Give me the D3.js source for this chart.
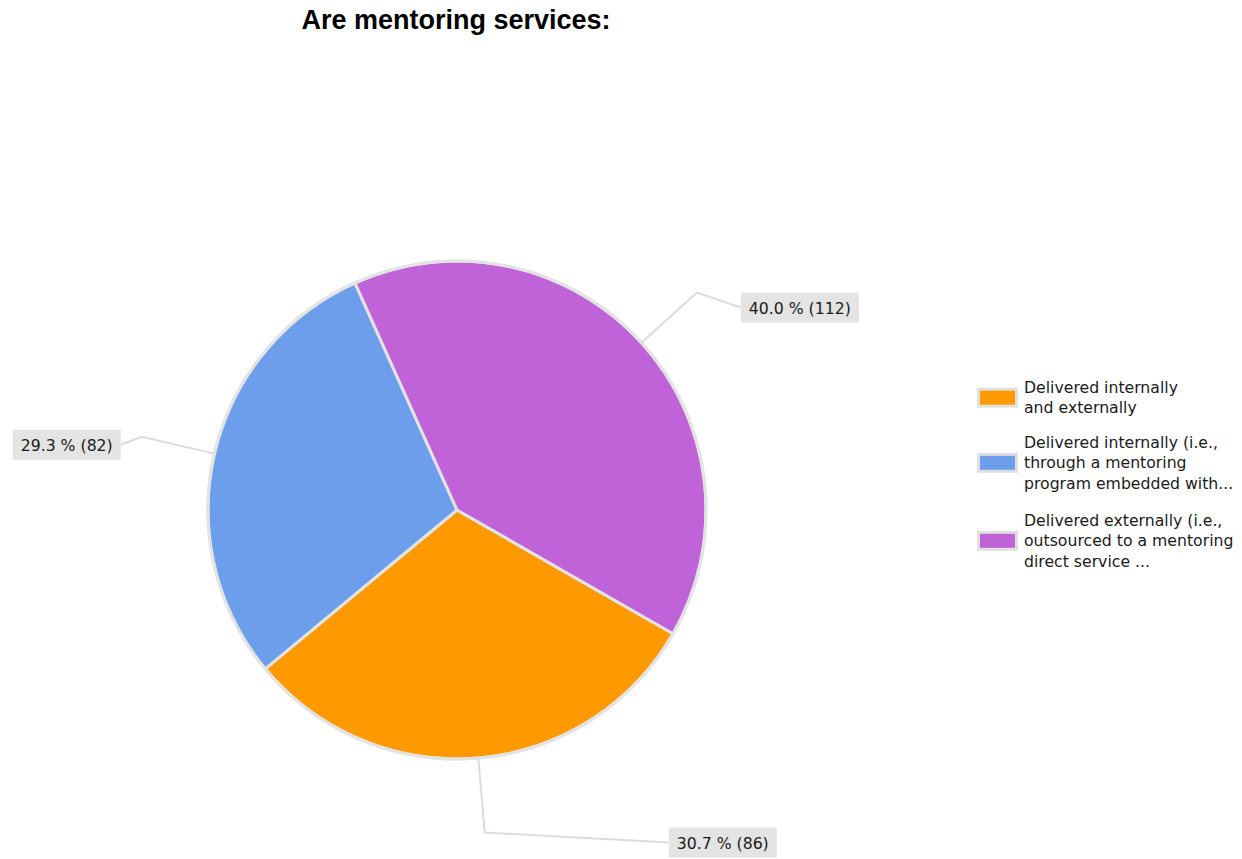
<!DOCTYPE html>
<html>
<head>
<meta charset="utf-8">
<script src="https://cdn.jsdelivr.net/npm/d3@7"></script>
<style>
  html, body { margin: 0; padding: 0; background: #fff; }
  svg { display: block; }
</style>
</head>
<body>
<svg id="chart" width="1242" height="859"></svg>
<script>
// Survey responses: "Are mentoring services:"
const categories = [
  ["Delivered internally", "and externally"],
  ["Delivered internally (i.e.,", "through a mentoring", "program embedded with..."],
  ["Delivered externally (i.e.,", "outsourced to a mentoring", "direct service ..."]
];
const counts = [86, 82, 112];
const percentLabels = ["30.7 %", "29.3 %", "40.0 %"];
const colors = ["#ff9900", "#6d9eeb", "#c062d8"];

const width = 1242, height = 859;
const cx = 457, cy = 510, radius = 249;
const startDeg = 119.8;
const bodyFont = "'DejaVu Sans', sans-serif";
const bodySize = 15.7;

const svg = d3.select("#chart");

svg.append("text")
  .attr("x", 456).attr("y", 29)
  .attr("text-anchor", "middle")
  .attr("font-family", "'Liberation Sans', Arial, sans-serif")
  .attr("font-weight", "bold")
  .attr("font-size", 27)
  .attr("fill", "#000")
  .text("Are mentoring services:");

const pie = d3.pie().sort(null).value(d => d)
  .startAngle(startDeg * Math.PI / 180)
  .endAngle((startDeg + 360) * Math.PI / 180);
const arcs = pie(counts);
const arc = d3.arc().innerRadius(0).outerRadius(radius);

const g = svg.append("g").attr("transform", `translate(${cx},${cy})`);

g.selectAll("path.slice").data(arcs).join("path")
  .attr("class", "slice")
  .attr("d", arc)
  .attr("fill", (d, i) => colors[i])
  .attr("stroke", "#e3e3e3")
  .attr("stroke-width", 3)
  .attr("stroke-linejoin", "round");

// outer rim
g.append("circle").attr("r", radius).attr("fill", "none")
  .attr("stroke", "#e3e3e3").attr("stroke-width", 3);

// Label placement: side of the box the leader attaches to, and offset from the elbow
const labelLayout = [
  { anchor: "left",  dx: 184, dy: 10 },
  { anchor: "right", dx: -21, dy: 8 },
  { anchor: "left",  dx: 44,  dy: 15 }
];
const fmt = d3.format("d");
const edgeArc = d3.arc().innerRadius(radius).outerRadius(radius);
const elbowArc = d3.arc().innerRadius(radius * 1.3).outerRadius(radius * 1.3);

const labelG = g.append("g");
arcs.forEach((d, i) => {
  const p0 = edgeArc.centroid(d);
  const p1 = elbowArc.centroid(d);
  const L = labelLayout[i];
  const p2 = [p1[0] + L.dx, p1[1] + L.dy];
  labelG.append("polyline")
    .attr("points", [p0, p1, p2].map(p => p.join(",")).join(" "))
    .attr("fill", "none")
    .attr("stroke", "#dcdcdc")
    .attr("stroke-width", 2);

  const txt = `${percentLabels[i]} (${fmt(d.value)})`;
  const rect = labelG.append("rect").attr("fill", "#e4e4e4");
  const t = labelG.append("text")
    .attr("font-family", bodyFont)
    .attr("font-size", bodySize)
    .attr("fill", "#1a1a1a")
    .attr("dominant-baseline", "central")
    .text(txt);
  const w = t.node().getComputedTextLength();
  const padX = 8, boxW = w + padX * 2, boxH = 30;
  const bx = L.anchor === "left" ? p2[0] : p2[0] - boxW;
  rect.attr("x", bx).attr("y", p2[1] - boxH / 2)
    .attr("width", boxW).attr("height", boxH);
  t.attr("x", bx + padX).attr("y", p2[1] + 1);
});

// Legend
const legend = svg.append("g").attr("transform", "translate(977,0)");
const itemTops = [378, 433, 511];
categories.forEach((lines, i) => {
  const top = itemTops[i];
  const midLine = (lines.length - 1) / 2;
  const lineH = 20.3;
  const swY = top + 9 + midLine * lineH;
  legend.append("rect")
    .attr("x", 1.5).attr("y", swY - 8)
    .attr("width", 38).attr("height", 17)
    .attr("fill", colors[i])
    .attr("stroke", "#e0e0e0").attr("stroke-width", 3);
  const t = legend.append("text")
    .attr("font-family", bodyFont)
    .attr("font-size", bodySize)
    .attr("fill", "#1a1a1a");
  lines.forEach((ln, j) => {
    t.append("tspan")
      .attr("x", 47)
      .attr("y", top + 15 + j * lineH)
      .text(ln);
  });
});
</script>
</body>
</html>
